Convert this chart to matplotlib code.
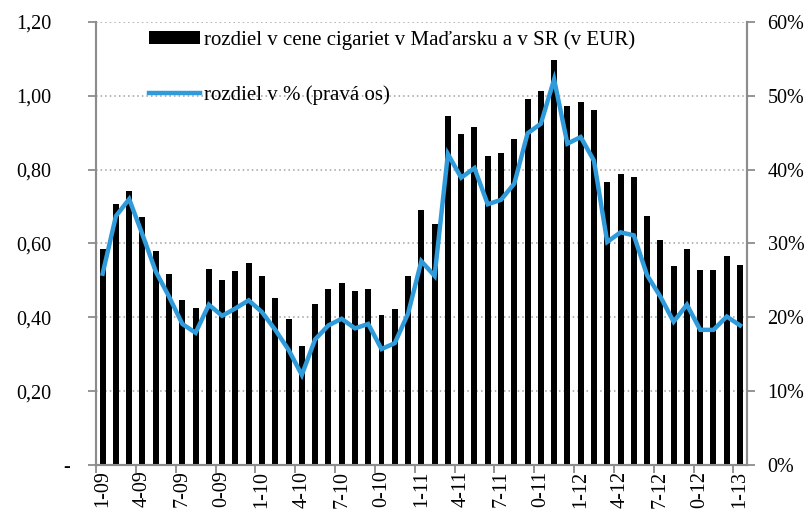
import matplotlib.pyplot as plt
from matplotlib.ticker import FixedLocator, FuncFormatter
from matplotlib.transforms import ScaledTranslation
import numpy as np

plt.rcParams['font.family'] = ['Liberation Serif', 'DejaVu Serif']

# months 1-09 .. 1-13
months = ["%d-%02d" % (m, y) for y in range(9, 14) for m in range(1, 13)][:49]

# difference in price of cigarettes (EUR)
diff_eur = [0.584, 0.706, 0.741, 0.671, 0.580, 0.517, 0.446, 0.424, 0.531, 0.502,
            0.526, 0.547, 0.512, 0.452, 0.395, 0.321, 0.435, 0.477, 0.494, 0.472,
            0.477, 0.406, 0.422, 0.511, 0.690, 0.652, 0.946, 0.897, 0.915, 0.836,
            0.845, 0.884, 0.990, 1.012, 1.096, 0.971, 0.984, 0.960, 0.766, 0.789,
            0.781, 0.673, 0.609, 0.538, 0.585, 0.528, 0.528, 0.566, 0.542]

# difference in % (right axis)
diff_pct = [25.9, 33.7, 36.0, 31.2, 26.2, 22.8, 19.1, 17.9, 21.7, 20.2,
            21.2, 22.3, 20.7, 18.3, 15.6, 12.2, 17.0, 18.9, 19.8, 18.5,
            19.1, 15.7, 16.5, 20.5, 27.6, 25.6, 42.1, 38.9, 40.2, 35.3,
            35.9, 38.1, 44.9, 46.2, 52.2, 43.5, 44.4, 41.2, 30.2, 31.5,
            31.1, 25.7, 22.8, 19.4, 21.7, 18.3, 18.3, 20.1, 18.9]

grey = '#8c8c8c'
blue = '#2f9bda'
fs = 14.5

fig = plt.figure(figsize=(8.08, 5.19), dpi=100)
ax = fig.add_axes([0.1188, 0.104, 0.8053, 0.854])
ax2 = ax.twinx()

x = np.arange(len(months))
bars = ax.bar(x, diff_eur, width=0.45, color='black', zorder=3,
              label='rozdiel v cene cigariet v Maďarsku a v SR (v EUR)')
line, = ax2.plot(x, diff_pct, color=blue, lw=3.2, solid_joinstyle='miter',
                 label='rozdiel v % (pravá os)', zorder=4)

ax.set_xlim(-0.5, len(months) - 0.5)
ax.set_ylim(0, 1.2)
ax2.set_ylim(0, 60)
ax.set_yticks(np.arange(0, 1.21, 0.2))
ax.yaxis.set_major_formatter(FuncFormatter(
    lambda v, p: '-' if abs(v) < 1e-9 else ('%.2f' % v).replace('.', ',')))
ax2.set_yticks(np.arange(0, 61, 10))
ax2.yaxis.set_major_formatter(FuncFormatter(lambda v, p: '%d%%' % v))

ax.grid(axis='y', color='#a0a0a0', linestyle=(0, (1, 2)), lw=1.1, zorder=0)
ax.set_axisbelow(True)

# ticks on category boundaries, labels at centers
ax.xaxis.set_major_locator(FixedLocator(np.arange(0, len(months), 3) - 0.5))
ax.xaxis.set_minor_locator(FixedLocator(np.arange(0, len(months), 3)))
ax.set_xticklabels([])
ax.set_xticklabels([m[-4:] for m in months[::3]], minor=True, rotation=90)
ax.tick_params(axis='x', which='major', length=6, color=grey, width=1.3)
ax.tick_params(axis='x', which='minor', length=0, pad=4, labelsize=fs)
ax.tick_params(axis='y', length=6, color=grey, width=1.3, labelsize=fs, pad=26)
ax2.tick_params(axis='y', length=6, color=grey, width=1.3, labelsize=fs, pad=9)

# the "-" for zero sits a bit further right (accounting format)
fig.canvas.draw()
zero_lbl = ax.get_yticklabels()[0]
zero_lbl.set_transform(zero_lbl.get_transform() +
                       ScaledTranslation(13 / 72, 0, fig.dpi_scale_trans))

for a in (ax, ax2):
    a.spines['top'].set_visible(False)
    for s in ('left', 'right', 'bottom'):
        a.spines[s].set_color(grey)
        a.spines[s].set_linewidth(1.5)

ax.legend(handles=[bars, line], loc='upper left', bbox_to_anchor=(0.069, 1.0),
          frameon=False, fontsize=15, handlelength=2.45, handleheight=0.63,
          handletextpad=0.2, labelspacing=1.7, borderaxespad=0)

fig.savefig('out.png', dpi=100)
